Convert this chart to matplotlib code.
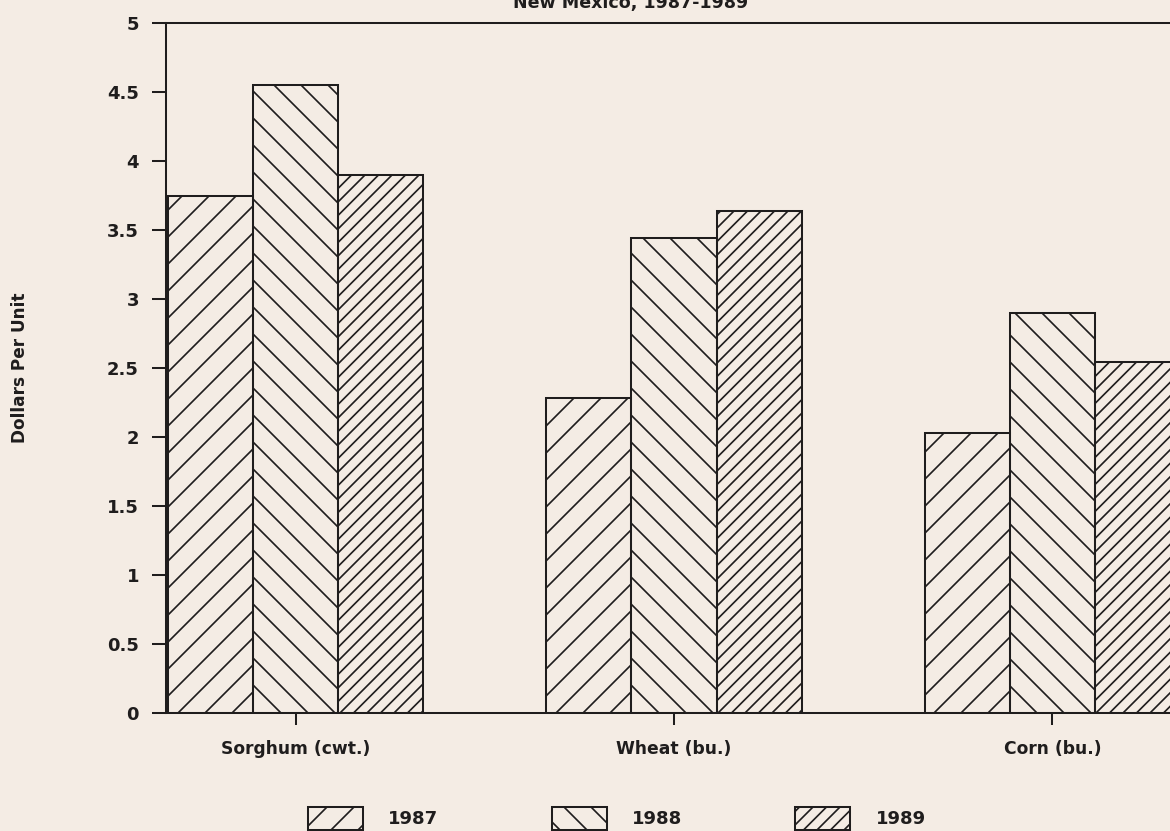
import numpy as np
import matplotlib
matplotlib.use("Agg")
import matplotlib.pyplot as plt

# Crop prices, dollars per unit
crops = ["Sorghum (cwt.)", "Wheat (bu.)", "Corn (bu.)"]
years = ["1987", "1988", "1989"]
price_1987 = [3.75, 2.28, 2.03]
price_1988 = [4.55, 3.44, 2.90]
price_1989 = [3.90, 3.64, 2.54]
y_ticks = [0, 0.5, 1, 1.5, 2, 2.5, 3, 3.5, 4, 4.5, 5]
y_tick_labels = ["0", "0.5", "1", "1.5", "2", "2.5", "3", "3.5", "4", "4.5", "5"]
title = "New Mexico, 1987-1989"

PAPER = "#f4ece4"
INK = "#1f1d1d"
DPI = 162


def main():
    plt.rcParams["font.family"] = ["DejaVu Sans"]
    plt.rcParams["font.weight"] = "bold"
    plt.rcParams["hatch.linewidth"] = 0.75
    plt.rcParams["hatch.color"] = INK
    plt.rcParams["text.color"] = INK

    fig = plt.figure(figsize=(1170 / DPI, 831 / DPI), dpi=DPI, facecolor=PAPER)
    # right edge of the axes runs past the page, like the scan
    ax = fig.add_axes([166 / 1170, 1 - 713 / 831, 1025 / 1170, 690 / 831])
    ax.set_facecolor(PAPER)

    x = np.arange(len(crops))
    width = 0.2247
    # hatch spacing: '//' ~27px at this dpi, '////' ~13px
    hatches = ["//", "\\\\", "////"]
    series = [price_1987, price_1988, price_1989]
    for i, (vals, h) in enumerate(zip(series, hatches)):
        ax.bar(x + (i - 1) * width, vals, width, facecolor="none",
               edgecolor=INK, linewidth=0.9, hatch=h, label=years[i])

    ax.set_xlim(-0.3423, 2.366)
    ax.set_ylim(0, 5)
    ax.set_yticks(y_ticks)
    ax.set_yticklabels(y_tick_labels)
    ax.set_xticks(x)
    ax.set_xticklabels(crops)

    ax.tick_params(axis="y", direction="out", length=6.2, width=0.9,
                   pad=5.8, labelsize=8, colors=INK)
    ax.tick_params(axis="x", direction="out", length=5.3, width=0.9,
                   pad=6.5, labelsize=7.6, colors=INK)

    for side in ["left", "bottom", "top"]:
        ax.spines[side].set_linewidth(0.9)
        ax.spines[side].set_color(INK)
    ax.spines["right"].set_visible(False)

    fig.text(20 / 1170, 1 - 368 / 831, "Dollars Per Unit", rotation=90,
             ha="center", va="center", fontsize=7.5, weight="bold")
    fig.text(631 / 1170, 1 - 8 / 831, title, ha="center", va="baseline",
             fontsize=7.8, weight="bold")

    fig.legend(loc="upper left", bbox_to_anchor=(308 / 1170, 1 - 807 / 831),
               ncol=3, frameon=False, fontsize=8, borderpad=0,
               handlelength=3.05, handleheight=1.6, handletextpad=1.4,
               columnspacing=6.3, borderaxespad=0)

    fig.savefig("out.png", dpi=DPI, facecolor=PAPER)


if __name__ == "__main__":
    main()
